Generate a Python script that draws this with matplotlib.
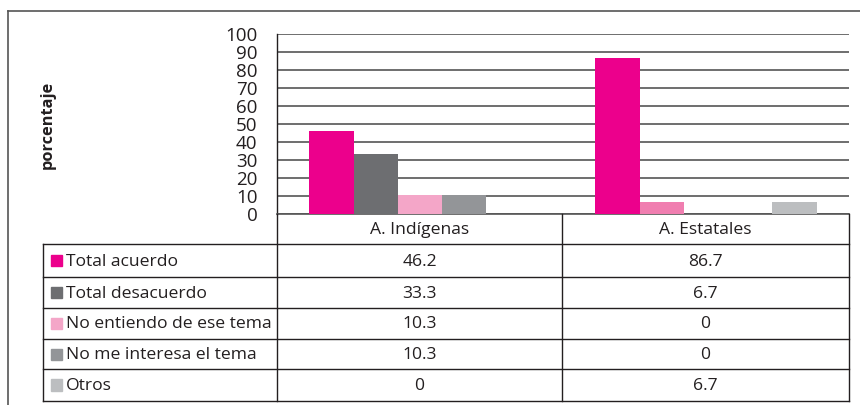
import matplotlib
matplotlib.use("Agg")
import matplotlib.pyplot as plt
from matplotlib.patches import Rectangle
from matplotlib.lines import Line2D
import numpy as np

plt.rcParams['font.family'] = ['Open Sans', 'DejaVu Sans']

categories = ["A. Indígenas", "A. Estatales"]
series = ["Total acuerdo", "Total desacuerdo", "No entiendo de ese tema",
          "No me interesa el tema", "Otros"]
values = [
    [46.2, 86.7],
    [33.3, 6.7],
    [10.3, 0],
    [10.3, 0],
    [0, 6.7],
]
value_labels = [
    ["46.2", "86.7"],
    ["33.3", "6.7"],
    ["10.3", "0"],
    ["10.3", "0"],
    ["0", "6.7"],
]
colors = ["#EC008C", "#6D6E71", "#F4A6C8", "#939598", "#BCBEC0"]
# in the reference the Estatales "Total desacuerdo" bar is drawn pink
bar_color_override = {(1, 1): "#F07EB0"}
yticks = list(range(0, 101, 10))

W, H = 860, 405
fig = plt.figure(figsize=(W / 100, H / 100), dpi=100)

def fx(px):
    return px / W

def fy(py):
    return 1 - py / H

# plot area pixels
L, R, T, B = 277, 849, 34, 214
ax = fig.add_axes([fx(L), fy(B), fx(R - L), fy(T) - fy(B)])
ax.set_xlim(-0.5, len(categories) - 0.5)
ax.set_ylim(0, 100)

bw = 0.155
n = len(series)
x = np.arange(len(categories))
for k in range(n):
    cols = [bar_color_override.get((k, j), colors[k]) for j in range(len(categories))]
    ax.bar(x + (k - (n - 1) / 2) * bw, values[k], width=bw, color=cols,
           edgecolor="none", zorder=3)

ax.set_yticks(yticks)
ax.set_yticklabels([str(t) for t in yticks], fontsize=13.5, color="#231F20")
ax.tick_params(axis="y", length=0, pad=14)
ax.set_xticks([])
ax.grid(axis="y", color="#555555", linewidth=1.2, zorder=0)
for s in ["top", "right"]:
    ax.spines[s].set_visible(False)
ax.spines["left"].set_color("#231F20")
ax.spines["left"].set_linewidth(1)
ax.spines["bottom"].set_color("#555555")
ax.spines["bottom"].set_linewidth(1.2)

# y label
fig.text(fx(48), fy(125), "porcentaje", rotation=90, ha="center", va="center",
         fontsize=11.8, fontweight="bold", color="#231F20")

# outer frame
lc = "#555555"
fig.add_artist(Line2D([fx(8), fx(860)], [fy(11), fy(11)], color=lc, lw=1.2))
fig.add_artist(Line2D([fx(8), fx(8)], [fy(11), fy(405)], color=lc, lw=1.2))

# table
tab_left = 43
col_edges = [L, 562, R]
row_edges = [B, 244, 277, 308, 339, 369, 401]
tc = "#231F20"
# vertical lines
for xe in col_edges:
    fig.add_artist(Line2D([fx(xe), fx(xe)], [fy(B), fy(row_edges[-1])], color=tc, lw=1))
fig.add_artist(Line2D([fx(tab_left), fx(tab_left)], [fy(row_edges[1]), fy(row_edges[-1])],
                      color=tc, lw=1))
for ye in row_edges[1:]:
    fig.add_artist(Line2D([fx(tab_left), fx(R)], [fy(ye), fy(ye)], color=tc, lw=1))

fs = 12.6
# header
for j, c in enumerate(categories):
    xc = (col_edges[j] + col_edges[j + 1]) / 2
    fig.text(fx(xc), fy((row_edges[0] + row_edges[1]) / 2 + 1), c, ha="center",
             va="center", fontsize=fs, color=tc)
# rows
for k in range(n):
    yc = (row_edges[k + 1] + row_edges[k + 2]) / 2
    fig.add_artist(Rectangle((fx(51), fy(yc + 5.5)), fx(11), fy(yc - 5.5) - fy(yc + 5.5),
                             color=colors[k], transform=fig.transFigure))
    fig.text(fx(66), fy(yc + 1), series[k], ha="left", va="center", fontsize=fs, color=tc)
    for j in range(len(categories)):
        xc = (col_edges[j] + col_edges[j + 1]) / 2
        fig.text(fx(xc), fy(yc + 1), value_labels[k][j], ha="center", va="center",
                 fontsize=fs, color=tc)

fig.savefig("out.png", dpi=100)
